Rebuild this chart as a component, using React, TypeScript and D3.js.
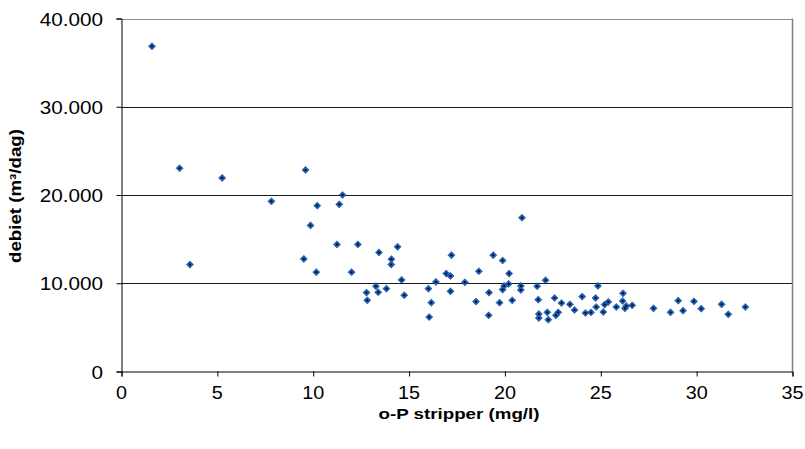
import React, { useEffect, useRef } from 'react';
import * as d3 from 'd3';

// o-P stripper (mg/l)
const opValues = [
  1.59, 3.03, 3.57, 5.25, 7.82, 9.51, 9.6, 9.86, 10.16, 10.21, 11.24, 11.36, 11.53,
  12.0, 12.33, 12.78, 12.82, 13.27, 13.39, 13.43, 13.82, 14.07, 14.08, 14.4, 14.61, 14.75,
  16.01, 16.05, 16.16, 16.4, 16.94, 17.16, 17.16, 17.21, 17.91, 18.49, 18.64, 19.15, 19.17,
  19.39, 19.72, 19.88, 19.88, 19.96, 20.19, 20.22, 20.38, 20.83, 20.83, 20.89,
  21.68, 21.74, 21.77, 21.77, 22.12, 22.21, 22.26, 22.59, 22.66, 22.78, 22.95, 23.39, 23.63,
  24.03, 24.2, 24.49, 24.73, 24.76, 24.85, 25.13, 25.2, 25.39, 25.81, 26.14, 26.16, 26.26,
  26.33, 26.64, 27.75, 28.64, 29.04, 29.29, 29.86, 30.24, 31.3, 31.65, 32.54
];

// debiet (m3/dag)
const debietValues = [
  36850, 23030, 12120, 21930, 19280, 12760, 22840, 16550, 11250, 18790, 14400, 18940, 20000,
  11250, 14400, 8940, 8070, 9660, 8980, 13490, 9390, 12120, 12730, 14130, 10380, 8640,
  9390, 6170, 7800, 10150, 11100, 10830, 9090, 13180, 10110, 7920, 11360, 6360, 8940,
  13180, 7800, 12580, 9280, 9700, 9920, 11100, 8070, 9700, 9240, 17420,
  9660, 8140, 6510, 6060, 10340, 6700, 5870, 8330, 6360, 6700, 7760, 7610, 6970,
  8490, 6630, 6700, 8330, 7310, 9700, 6740, 7580, 7880, 7310, 7990, 8860, 7160,
  7420, 7500, 7160, 6700, 8030, 6890, 7950, 7120, 7610, 6480, 7310
];

const xTicks = [0, 5, 10, 15, 20, 25, 30, 35];
const yTicks = [0, 10000, 20000, 30000, 40000];

const W = 805;
const H = 449;
const left = 121.5;
const right = 792.5;
const top = 18.5;
const bottom = 371.5;
const FONT = 'Liberation Sans, Arial, sans-serif';

export default function App() {
  const ref = useRef<SVGSVGElement>(null);

  useEffect(() => {
    const svg = d3.select(ref.current);
    svg.selectAll('*').remove();

    const x = d3.scaleLinear().domain([0, 35]).range([left, right]);
    const y = d3.scaleLinear().domain([0, 40000]).range([bottom, top]);
    const fmt = (v: number) => d3.format(',')(v).replace(/,/g, '.');

    // gridlines
    svg.append('g')
      .selectAll('line')
      .data(yTicks.filter(d => d > 0))
      .enter()
      .append('line')
      .attr('x1', left)
      .attr('x2', right)
      .attr('y1', d => Math.round(y(d)) + 0.5)
      .attr('y2', d => Math.round(y(d)) + 0.5)
      .attr('stroke', d => (d === 40000 ? '#8a8a8a' : '#1a1a1a'))
      .attr('stroke-width', 1);

    // right border of plot area
    svg.append('line')
      .attr('x1', right).attr('x2', right)
      .attr('y1', top).attr('y2', bottom)
      .attr('stroke', '#808080').attr('stroke-width', 1.5);

    const xAxis = d3.axisBottom(x).tickValues(xTicks).tickSize(5).tickFormat(() => '');
    const gx = svg.append('g')
      .attr('transform', `translate(0,${bottom})`)
      .call(xAxis);
    gx.select('.domain').attr('stroke', '#000');

    svg.append('g')
      .selectAll('text')
      .data(xTicks)
      .enter()
      .append('text')
      .attr('transform', d => `translate(${x(d)},399) scale(1.1,1)`)
      .attr('text-anchor', 'middle')
      .attr('font-family', FONT)
      .attr('font-size', 18)
      .attr('fill', '#000')
      .text(d => String(d));

    const yAxis = d3.axisLeft(y).tickValues(yTicks).tickSize(5).tickFormat(() => '');
    const gy = svg.append('g')
      .attr('transform', `translate(${left},0)`)
      .call(yAxis);
    gy.select('.domain').attr('stroke', '#000');

    svg.append('g')
      .selectAll('text')
      .data(yTicks)
      .enter()
      .append('text')
      .attr('transform', d => `translate(103,${y(d) + 7}) scale(1.12,1)`)
      .attr('text-anchor', 'end')
      .attr('font-family', FONT)
      .attr('font-size', 18.5)
      .attr('fill', '#000')
      .text(d => fmt(d));

    // points
    const pts = opValues.map((v, i) => ({ x: v, y: debietValues[i] }));
    const r = 3.6;
    const g = svg.append('g');
    g.selectAll('path')
      .data(pts)
      .enter()
      .append('path')
      .attr('d', `M0,${-r}L${r},0L0,${r}L${-r},0Z`)
      .attr('transform', d => `translate(${x(d.x)},${y(d.y)})`)
      .attr('fill', '#1d5db4')
      .attr('stroke', '#0d469a')
      .attr('stroke-width', 0.5);
    g.selectAll('rect')
      .data(pts)
      .enter()
      .append('rect')
      .attr('x', d => x(d.x) - 0.9)
      .attr('y', d => y(d.y) - 0.9)
      .attr('width', 1.8)
      .attr('height', 1.8)
      .attr('fill', '#000');

    // axis titles
    svg.append('text')
      .attr('x', (left + right) / 2 + 2)
      .attr('y', 419)
      .attr('text-anchor', 'middle')
      .attr('font-family', FONT)
      .attr('font-size', 15.5)
      .attr('font-weight', 'bold')
      .attr('textLength', 161)
      .attr('lengthAdjust', 'spacingAndGlyphs')
      .text('o-P stripper (mg/l)');

    svg.append('text')
      .attr('transform', `translate(21,${(top + bottom) / 2 + 1}) rotate(-90)`)
      .attr('text-anchor', 'middle')
      .attr('font-family', FONT)
      .attr('font-size', 16)
      .attr('font-weight', 'bold')
      .attr('textLength', 134)
      .attr('lengthAdjust', 'spacingAndGlyphs')
      .text('debiet (m³/dag)');
  }, []);

  return (
    <svg
      ref={ref}
      width={W}
      height={H}
      style={{ position: 'absolute', left: 0, top: 0, background: '#fff' }}
    />
  );
}
